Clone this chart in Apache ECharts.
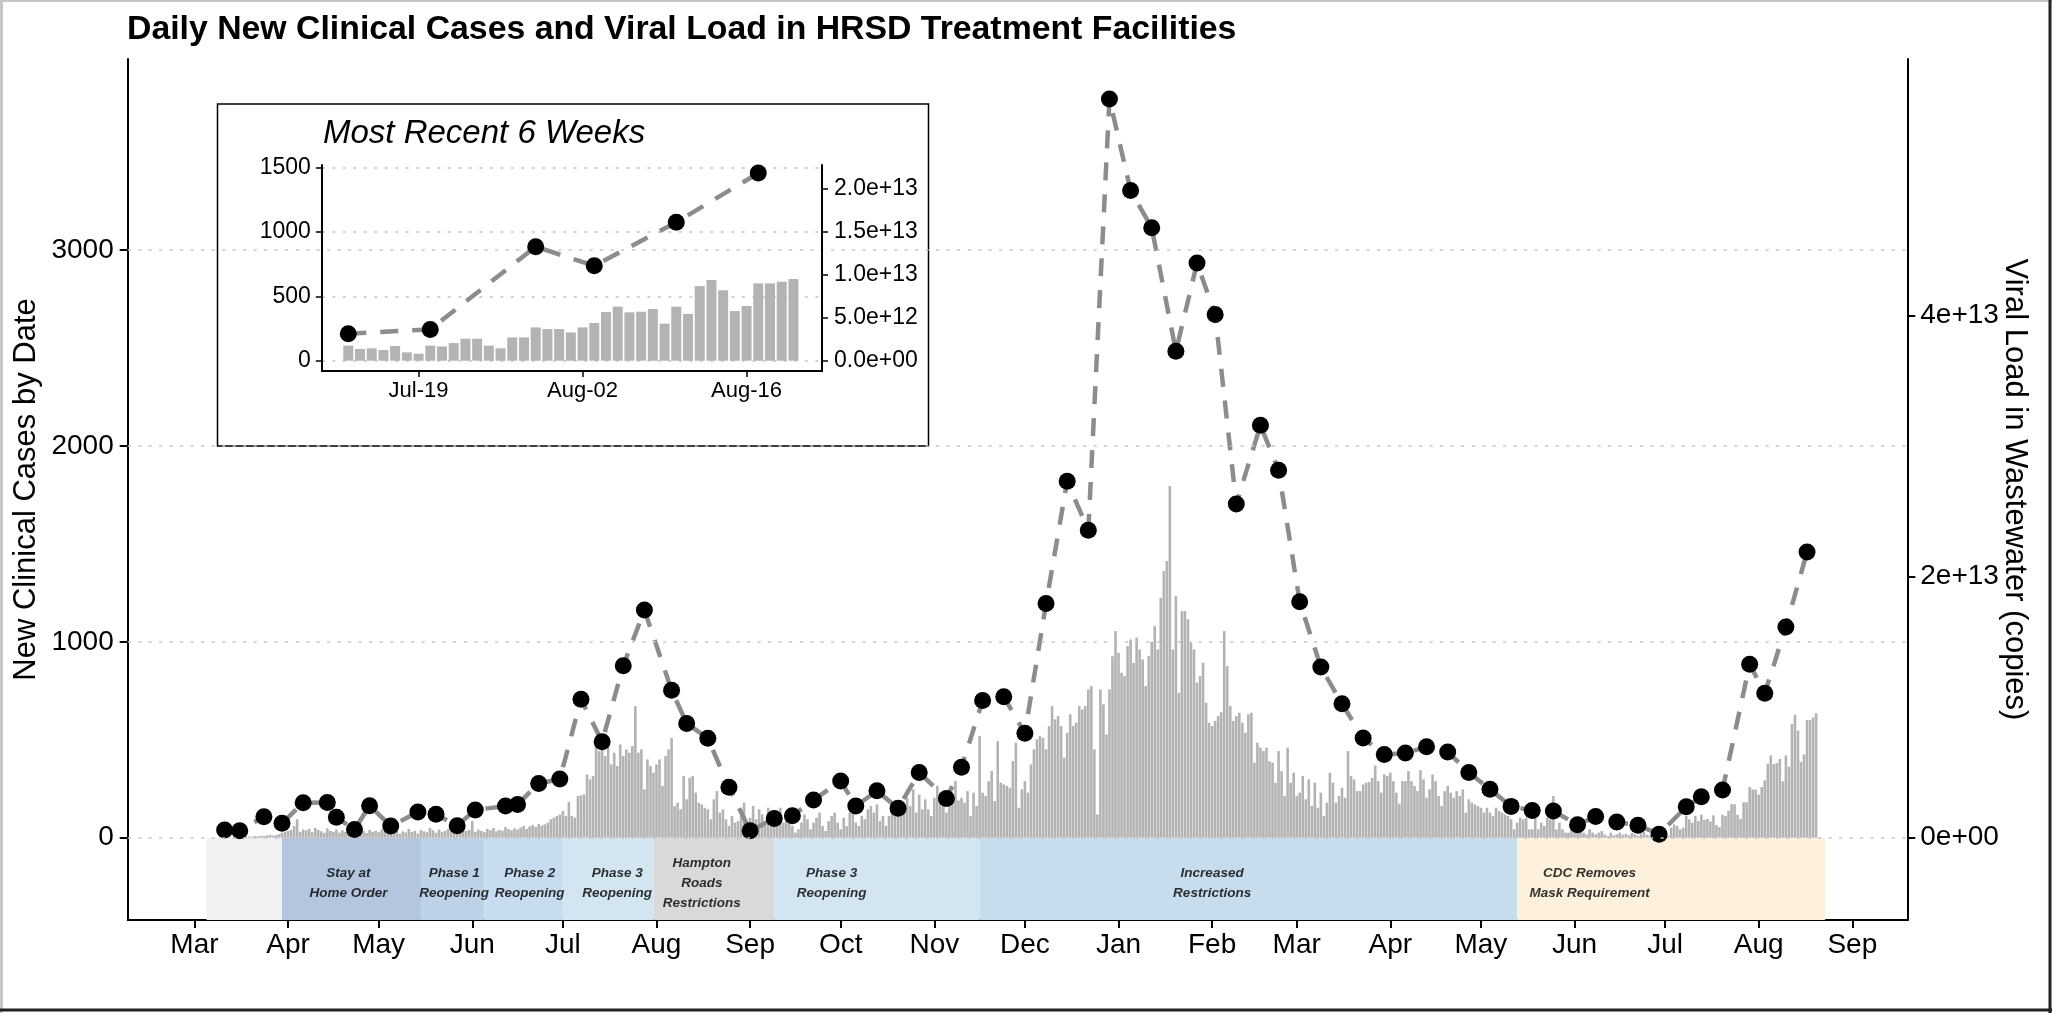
<!DOCTYPE html>
<html>
<head>
<meta charset="utf-8">
<script src="https://cdn.jsdelivr.net/npm/echarts@6/dist/echarts.min.js"></script>
<style>
  html, body { margin: 0; padding: 0; background: #fff; }
  #chart { width: 2052px; height: 1013px; }
</style>
</head>
<body>
<div id="chart"></div>
<script>
// ---------------- data ----------------
// Daily new clinical cases, one array per month (first array starts 2020-03-10)
const caseMonthStarts = ['2020-03-10','2020-04-01','2020-05-01','2020-06-01','2020-07-01','2020-08-01','2020-09-01','2020-10-01','2020-11-01','2020-12-01','2021-01-01','2021-02-01','2021-03-01','2021-04-01','2021-05-01','2021-06-01','2021-07-01','2021-08-01'];
const cases2020Mar = [1, 0, 2, 1, 3, 2, 4, 3, 5, 6, 5, 8, 7, 10, 9, 12, 15, 11, 14, 18, 25, 30];
const cases2020Apr = [35, 40, 60, 94, 30, 42, 38, 45, 28, 50, 40, 33, 25, 48, 35, 30, 42, 26, 38, 30, 22, 45, 33, 28, 50, 35, 24, 40, 30, 36];
const cases2020May = [28, 42, 35, 25, 30, 48, 38, 20, 32, 27, 45, 30, 35, 22, 40, 33, 28, 50, 38, 25, 42, 30, 35, 45, 73, 28, 38, 30, 47, 35, 40];
const cases2020Jun = [85, 30, 42, 35, 28, 45, 38, 50, 33, 40, 36, 55, 44, 38, 48, 42, 52, 60, 45, 58, 65, 55, 70, 62, 68, 77, 94, 102, 111, 119];
const cases2020Jul = [136, 111, 182, 111, 102, 213, 216, 221, 323, 298, 315, 493, 442, 451, 417, 476, 374, 434, 366, 476, 417, 451, 434, 468, 672, 434, 451, 247, 400, 366, 332];
const cases2020Aug = [374, 400, 264, 417, 451, 510, 162, 179, 145, 315, 196, 306, 315, 230, 179, 170, 153, 145, 94, 196, 238, 128, 145, 94, 60, 111, 77, 85, 111, 179, 60];
const cases2020Sep = [102, 162, 94, 145, 119, 60, 153, 77, 111, 128, 153, 77, 111, 128, 60, 26, 43, 77, 119, 94, 43, 77, 102, 128, 60, 34, 85, 111, 128, 77];
const cases2020Oct = [43, 102, 60, 128, 145, 77, 60, 111, 94, 145, 162, 128, 170, 85, 111, 60, 111, 162, 145, 128, 153, 170, 204, 162, 247, 128, 221, 145, 196, 145, 111];
const cases2020Nov = [204, 264, 230, 170, 128, 204, 213, 290, 190, 204, 179, 238, 111, 230, 162, 519, 230, 213, 289, 340, 187, 493, 281, 272, 264, 255, 391, 485, 153, 247];
const cases2020Dec = [289, 230, 374, 451, 502, 519, 510, 451, 570, 672, 604, 621, 570, 408, 536, 630, 570, 587, 672, 655, 672, 757, 774, 451, 119, 757, 681, 527, 757, 927, 1055];
const cases2021Jan = [944, 842, 825, 978, 1012, 893, 1021, 961, 910, 774, 927, 1000, 1080, 961, 1225, 1361, 1412, 1795, 961, 1234, 740, 1157, 1157, 1115, 996, 961, 791, 825, 893, 689, 587];
const cases2021Feb = [570, 596, 621, 640, 1055, 876, 672, 596, 621, 638, 587, 536, 630, 638, 383, 485, 460, 442, 460, 391, 383, 281, 442, 340, 213, 460, 281, 332];
const cases2021Mar = [213, 230, 315, 196, 298, 162, 281, 153, 230, 111, 179, 332, 281, 179, 213, 255, 204, 442, 315, 298, 238, 238, 272, 281, 284, 306, 369, 289, 230, 323, 315];
const cases2021Apr = [332, 289, 230, 174, 289, 289, 340, 289, 264, 238, 345, 298, 204, 247, 323, 289, 213, 162, 238, 264, 230, 204, 238, 213, 247, 128, 196, 179, 170, 162];
const cases2021May = [153, 128, 153, 128, 111, 153, 136, 128, 119, 111, 94, 43, 77, 102, 94, 102, 43, 43, 102, 43, 77, 60, 102, 94, 213, 43, 77, 43, 26, 26, 94];
const cases2021Jun = [43, 26, 43, 26, 17, 43, 26, 17, 26, 34, 17, 9, 26, 12, 17, 26, 15, 20, 12, 25, 18, 10, 22, 30, 15, 12, 20, 25, 17, 26];
const cases2021Jul = [34, 9, 51, 68, 60, 43, 51, 111, 94, 77, 111, 85, 117, 91, 96, 83, 114, 65, 54, 117, 111, 137, 171, 171, 117, 96, 181, 181, 259, 246, 246];
const cases2021Aug = [220, 259, 293, 378, 420, 376, 381, 402, 288, 420, 363, 580, 627, 547, 386, 425, 601, 601, 614, 635];

// Viral load in wastewater (sample dates, copies in units of 1e12)
const viralDates = ['2020-03-11','2020-03-16','2020-03-24','2020-03-30','2020-04-06','2020-04-14','2020-04-17','2020-04-23','2020-04-28','2020-05-05','2020-05-14','2020-05-20','2020-05-27','2020-06-02','2020-06-12','2020-06-16','2020-06-23','2020-06-30','2020-07-07','2020-07-14','2020-07-21','2020-07-28','2020-08-06','2020-08-11','2020-08-18','2020-08-25','2020-09-01','2020-09-09','2020-09-15','2020-09-22','2020-10-01','2020-10-06','2020-10-13','2020-10-20','2020-10-27','2020-11-05','2020-11-10','2020-11-17','2020-11-24','2020-12-01','2020-12-08','2020-12-15','2020-12-22','2020-12-29','2021-01-05','2021-01-12','2021-01-20','2021-01-27','2021-02-02','2021-02-09','2021-02-17','2021-02-23','2021-03-02','2021-03-09','2021-03-16','2021-03-23','2021-03-30','2021-04-06','2021-04-13','2021-04-20','2021-04-27','2021-05-04','2021-05-11','2021-05-18','2021-05-25','2021-06-02','2021-06-08','2021-06-15','2021-06-22','2021-06-29','2021-07-08','2021-07-13','2021-07-20','2021-07-29','2021-08-03','2021-08-10','2021-08-17'];
const viralLoadE12 = [0.59, 0.53, 1.61, 1.10, 2.67, 2.70, 1.56, 0.63, 2.45, 0.89, 1.97, 1.79, 0.92, 2.13, 2.42, 2.55, 4.16, 4.49, 10.61, 7.35, 13.16, 17.43, 11.30, 8.75, 7.61, 3.86, 0.53, 1.47, 1.68, 2.88, 4.35, 2.42, 3.59, 2.25, 5.00, 3.00, 5.39, 10.50, 10.79, 8.00, 17.93, 27.30, 23.54, 56.57, 49.56, 46.70, 37.25, 44.00, 40.07, 25.56, 31.58, 28.14, 18.06, 13.07, 10.25, 7.64, 6.38, 6.48, 6.96, 6.57, 5.00, 3.71, 2.40, 2.09, 2.04, 0.99, 1.62, 1.20, 0.96, 0.27, 2.37, 3.14, 3.65, 13.29, 11.06, 16.14, 21.87];

// Policy phases shown beneath the zero line
const phaseNames = ['', 'Stay at\nHome Order', 'Phase 1\nReopening', 'Phase 2\nReopening', 'Phase 3\nReopening', 'Hampton\nRoads\nRestrictions', 'Phase 3\nReopening', 'Increased\nRestrictions', 'CDC Removes\nMask Requirement'];
const phaseStarts = ['2020-03-05','2020-03-30','2020-05-15','2020-06-05','2020-07-01','2020-07-31','2020-09-09','2020-11-16','2021-05-13'];
const phaseEnds = ['2020-03-30','2020-05-15','2020-06-05','2020-07-01','2020-07-31','2020-09-09','2020-11-16','2021-05-13','2021-08-23'];

// Axis ticks
const monthTicks = ['2020-03-01','2020-04-01','2020-05-01','2020-06-01','2020-07-01','2020-08-01','2020-09-01','2020-10-01','2020-11-01','2020-12-01','2021-01-01','2021-02-01','2021-03-01','2021-04-01','2021-05-01','2021-06-01','2021-07-01','2021-08-01','2021-09-01'];
const monthTickLabels = ['Mar','Apr','May','Jun','Jul','Aug','Sep','Oct','Nov','Dec','Jan','Feb','Mar','Apr','May','Jun','Jul','Aug','Sep'];
const caseTicks = [0, 1000, 2000, 3000];
const loadTicks = [0, 2e13, 4e13];
const loadTickLabels = ['0e+00', '2e+13', '4e+13'];

// Inset: most recent six weeks
const insetStart = '2021-07-13';
const insetCaseTicks = [0, 500, 1000, 1500];
const insetLoadTicks = [0, 5e12, 1e13, 1.5e13, 2e13];
const insetLoadTickLabels = ['0.0e+00', '5.0e+12', '1.0e+13', '1.5e+13', '2.0e+13'];
const insetDateTicks = ['2021-07-19', '2021-08-02', '2021-08-16'];
const insetDateTickLabels = ['Jul-19', 'Aug-02', 'Aug-16'];

// ---------------- scales & layout ----------------
const LOAD_PER_CASE = 1.5e10;   // copies per case unit on the secondary axes
const DAY = 86400000;
const FONT = '"Liberation Sans", Arial, Helvetica, sans-serif';
const BAR_GREY = '#b3b3b3';
const LINE_GREY = '#8c8c8c';
const GRID_GREY = '#c4c4c4';
const PHASE_FILL = ['#f1f1f1', '#b4c6de', '#bdd2e7', '#c7dcee', '#d3e5f1', '#d9d9d9', '#d3e5f1', '#c7dcec', '#fdf0dc'];
const PHASE_LABEL_AT = [null, '2020-04-21', '2020-05-26', '2020-06-20', '2020-07-19', '2020-08-16', '2020-09-28', '2021-02-01', '2021-06-06'];

function t(s) { const p = s.split('-').map(Number); return Date.UTC(p[0], p[1] - 1, p[2]); }
function pick(v, ticks, labels) {
  let best = 0, bd = Infinity;
  ticks.forEach((k, i) => { const d = Math.abs(k - v); if (d < bd) { bd = d; best = i; } });
  return labels[best];
}

const caseMonths = [cases2020Mar, cases2020Apr, cases2020May, cases2020Jun, cases2020Jul, cases2020Aug, cases2020Sep, cases2020Oct, cases2020Nov, cases2020Dec, cases2021Jan, cases2021Feb, cases2021Mar, cases2021Apr, cases2021May, cases2021Jun, cases2021Jul, cases2021Aug];
const dailyCases = [];
caseMonths.forEach((arr, i) => {
  const t0 = t(caseMonthStarts[i]);
  arr.forEach((v, j) => dailyCases.push([t0 + j * DAY, v]));
});
const viralSeries = viralDates.map((d, i) => [t(d), viralLoadE12[i] * 1e12]);

const insetT0 = t(insetStart);
const insetCases = dailyCases.filter(d => d[0] >= insetT0);
const insetLoad = viralSeries.filter(d => d[0] >= insetT0);

const monthTickTimes = monthTicks.map(t);
const insetTickTimes = insetDateTicks.map(t);

// main panel ranges
const CASE_MIN = -420, CASE_MAX = 3975;
const X_MIN = t('2020-03-01') - 22.1 * DAY, X_MAX = t('2020-03-01') + 567.2 * DAY;
// inset ranges
const INSET_MIN = -80, INSET_MAX = 1521;
const IX_MIN = t('2021-07-19') - 8.26 * DAY, IX_MAX = t('2021-07-19') + 34.44 * DAY;

const bandAreas = phaseStarts.map((s, i) => [
  { xAxis: t(s), yAxis: CASE_MIN, itemStyle: { color: PHASE_FILL[i] } },
  { xAxis: t(phaseEnds[i]), yAxis: 0 }
]);
const phaseLabelData = [];
phaseNames.forEach((n, i) => { if (n) phaseLabelData.push([t(PHASE_LABEL_AT[i]), -232, n]); });

const dotted = { type: [3, 7.5], color: GRID_GREY, width: 1.5 };
const blackLine = { color: '#000', width: 2 };
const plain = v => String(v);

const option = {
  animation: false,
  backgroundColor: '#ffffff',
  title: [
    {
      text: 'Daily New Clinical Cases and Viral Load in HRSD Treatment Facilities',
      left: 122, top: 4.5,
      textStyle: { fontFamily: FONT, fontSize: 33.8, fontWeight: 'bold', color: '#000', lineHeight: 40 }
    },
    {
      text: 'Most Recent 6 Weeks',
      left: 318, top: 108.5, z: 9,
      textStyle: { fontFamily: FONT, fontSize: 33, fontStyle: 'italic', fontWeight: 'normal', color: '#000', lineHeight: 40 }
    }
  ],
  grid: [
    { left: 127.7, right: 144.7, top: 59, bottom: 93, containLabel: false, outerBoundsMode: 'none' },
    { left: 321.8, right: 1230, top: 165, bottom: 642, containLabel: false, outerBoundsMode: 'none' }
  ],
  xAxis: [
    {
      type: 'value', gridIndex: 0, min: X_MIN, max: X_MAX,
      axisLine: { show: true, onZero: false, lineStyle: blackLine },
      axisTick: { show: true, customValues: monthTickTimes, length: 8, lineStyle: blackLine },
      axisLabel: { customValues: monthTickTimes, formatter: v => pick(v, monthTickTimes, monthTickLabels), fontFamily: FONT, fontSize: 28, color: '#000', margin: 11 },
      splitLine: { show: false }
    },
    {
      type: 'value', gridIndex: 1, min: IX_MIN, max: IX_MAX, z: 8,
      axisLine: { show: true, onZero: false, lineStyle: blackLine },
      axisTick: { show: true, customValues: insetTickTimes, length: 6, lineStyle: { color: '#000', width: 1.5 } },
      axisLabel: { customValues: insetTickTimes, formatter: v => pick(v, insetTickTimes, insetDateTickLabels), fontFamily: FONT, fontSize: 22, color: '#000', margin: 9 },
      splitLine: { show: false }
    }
  ],
  yAxis: [
    {
      type: 'value', gridIndex: 0, position: 'left', min: CASE_MIN, max: CASE_MAX,
      name: 'New Clinical Cases by Date', nameLocation: 'middle', nameGap: 86, nameRotate: 90, nameMoveOverlap: false,
      nameTextStyle: { fontFamily: FONT, fontSize: 31, color: '#000' },
      axisLine: { show: true, onZero: false, lineStyle: blackLine },
      axisTick: { show: true, customValues: caseTicks, length: 8, lineStyle: blackLine },
      axisLabel: { customValues: caseTicks, formatter: plain, fontFamily: FONT, fontSize: 28, color: '#000', margin: 14 },
      splitLine: { show: false }
    },
    {
      type: 'value', gridIndex: 0, position: 'right',
      min: CASE_MIN * LOAD_PER_CASE, max: CASE_MAX * LOAD_PER_CASE,
      name: 'Viral Load in Wastewater (copies)', nameLocation: 'middle', nameGap: 92, nameRotate: -90, nameMoveOverlap: false,
      nameTextStyle: { fontFamily: FONT, fontSize: 31, color: '#000' },
      axisLine: { show: true, onZero: false, lineStyle: blackLine },
      axisTick: { show: true, customValues: loadTicks, length: 8, lineStyle: blackLine },
      axisLabel: { customValues: loadTicks, formatter: v => pick(v, loadTicks, loadTickLabels), fontFamily: FONT, fontSize: 28, color: '#000', margin: 13 },
      splitLine: { show: false }
    },
    {
      type: 'value', gridIndex: 1, position: 'left', min: INSET_MIN, max: INSET_MAX, z: 8,
      axisLine: { show: true, onZero: false, lineStyle: blackLine },
      axisTick: { show: true, customValues: insetCaseTicks, length: 6, lineStyle: { color: '#000', width: 1.5 } },
      axisLabel: { customValues: insetCaseTicks, formatter: plain, fontFamily: FONT, fontSize: 23, color: '#000', margin: 11 },
      splitLine: { show: false }
    },
    {
      type: 'value', gridIndex: 1, position: 'right', z: 8,
      min: INSET_MIN * LOAD_PER_CASE, max: INSET_MAX * LOAD_PER_CASE,
      axisLine: { show: true, onZero: false, lineStyle: blackLine },
      axisTick: { show: true, customValues: insetLoadTicks, length: 6, lineStyle: { color: '#000', width: 1.5 } },
      axisLabel: { customValues: insetLoadTicks, formatter: v => pick(v, insetLoadTicks, insetLoadTickLabels), fontFamily: FONT, fontSize: 23, color: '#000', margin: 12 },
      splitLine: { show: false }
    }
  ],
  graphic: [
    {
      type: 'rect', z: 5, silent: true,
      shape: { x: 217.5, y: 104, width: 711, height: 342 },
      style: { fill: '#ffffff', stroke: '#000', lineWidth: 1.5 }
    },
    // page frame
    { type: 'line', z: 20, silent: true, shape: { x1: 0, y1: 1, x2: 2052, y2: 1 }, style: { stroke: '#c6c6c6', lineWidth: 2 } },
    { type: 'line', z: 20, silent: true, shape: { x1: 1.5, y1: 0, x2: 1.5, y2: 1013 }, style: { stroke: '#c6c6c6', lineWidth: 3 } },
    { type: 'line', z: 20, silent: true, shape: { x1: 2050, y1: 0, x2: 2050, y2: 1013 }, style: { stroke: '#222', lineWidth: 3 } },
    { type: 'line', z: 20, silent: true, shape: { x1: 0, y1: 1010, x2: 2052, y2: 1010 }, style: { stroke: '#222', lineWidth: 3 } }
  ],
  series: [
    // phase bands
    {
      type: 'line', xAxisIndex: 0, yAxisIndex: 0, data: [], z: 0, silent: true,
      markArea: { silent: true, data: bandAreas }
    },
    // horizontal reference lines
    {
      type: 'line', xAxisIndex: 0, yAxisIndex: 0, data: [], z: 1, silent: true,
      markLine: { silent: true, symbol: ['none', 'none'], label: { show: false }, lineStyle: dotted,
        data: caseTicks.map(v => ({ yAxis: v })) }
    },
    // daily cases
    {
      type: 'bar', xAxisIndex: 0, yAxisIndex: 0, data: dailyCases, barWidth: 2.6, z: 2,
      itemStyle: { color: BAR_GREY }
    },
    // viral load
    {
      type: 'line', xAxisIndex: 0, yAxisIndex: 1, data: viralSeries, z: 3,
      symbol: 'circle', symbolSize: 17, showAllSymbol: true,
      itemStyle: { color: '#000' },
      lineStyle: { color: LINE_GREY, width: 4.5, type: [18, 14] }
    },
    // phase labels
    {
      type: 'scatter', xAxisIndex: 0, yAxisIndex: 0, data: phaseLabelData, z: 4, silent: true,
      symbolSize: 1, itemStyle: { color: 'transparent' },
      label: { show: true, position: 'inside', formatter: p => p.data[2], fontFamily: FONT, fontSize: 13.5,
        fontStyle: 'italic', fontWeight: 'bold', color: '#000', lineHeight: 20, align: 'center', verticalAlign: 'middle' }
    },
    // inset reference lines
    {
      type: 'line', xAxisIndex: 1, yAxisIndex: 2, data: [], z: 6, silent: true,
      markLine: { silent: true, symbol: ['none', 'none'], label: { show: false }, lineStyle: dotted,
        data: insetCaseTicks.map(v => ({ yAxis: v })) }
    },
    // inset daily cases
    {
      type: 'bar', xAxisIndex: 1, yAxisIndex: 2, data: insetCases, barWidth: 10, z: 7,
      itemStyle: { color: BAR_GREY }
    },
    // inset viral load (secondary axis)
    {
      type: 'line', xAxisIndex: 1, yAxisIndex: 3, data: insetLoad, z: 8,
      symbol: 'circle', symbolSize: 17, showAllSymbol: true,
      itemStyle: { color: '#000' },
      lineStyle: { color: LINE_GREY, width: 4.5, type: [18, 14] }
    }
  ]
};

const chart = echarts.init(document.getElementById('chart'), null, { renderer: 'canvas' });
chart.setOption(option);
</script>
</body>
</html>
